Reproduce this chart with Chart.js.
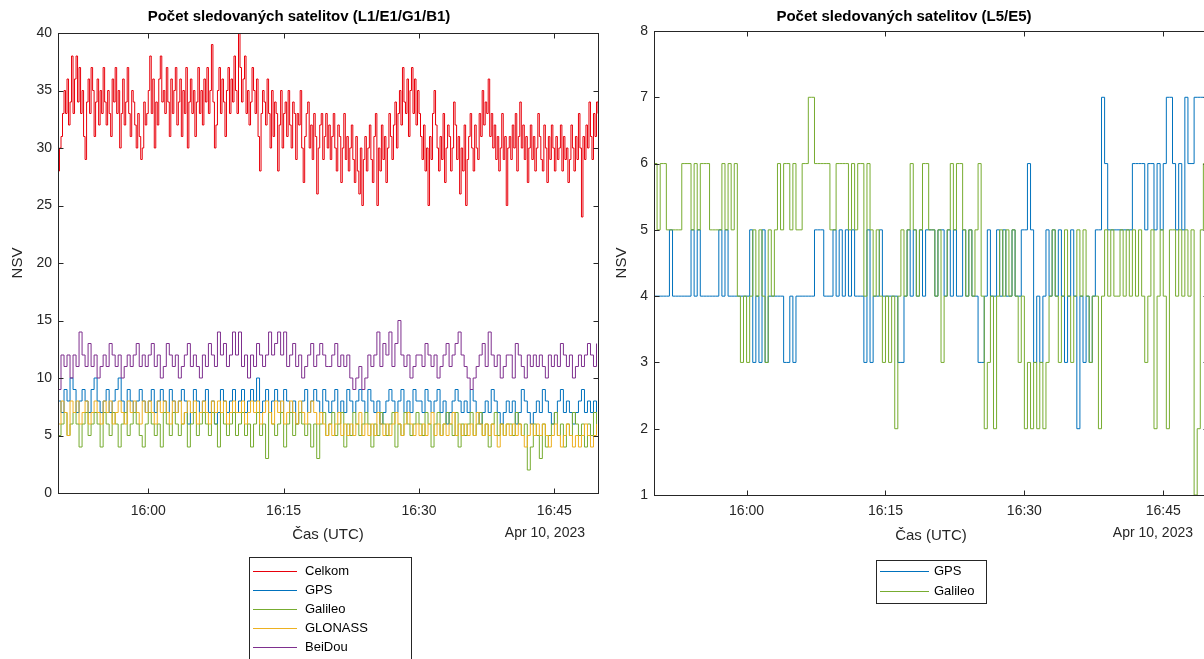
<!DOCTYPE html>
<html>
<head>
<meta charset="utf-8">
<script src="https://cdn.jsdelivr.net/npm/chart.js@4.4.0/dist/chart.umd.min.js"></script>
<style>
  html, body { margin: 0; padding: 0; background: #fff; overflow: hidden; width: 1204px; height: 659px; }
  #left { position: absolute; left: 0; top: 0; }
  #right { position: absolute; left: 600px; top: 0; }
</style>
</head>
<body>
<canvas id="left" width="600" height="659"></canvas>
<canvas id="right" width="620" height="659"></canvas>
<script>
// time axis starts at 15:50 UTC; Celkom read every 10 s, the rest every 20 s
const startMinute = 15 * 60 + 50;
const fineStep = 10 / 60;
const coarseStep = 20 / 60;
const endMinute = 60 - fineStep;
const tickMinutes = [10, 25, 40, 55]; // 16:00, 16:15, 16:30, 16:45
const dateLabel = "Apr 10, 2023";

// L1/E1/G1/B1
const celkom = [
  28,30,31,33,35,33,36,32,34,38, 33,36,38,34,37,33,35,31,29,34, 36,33,37,35,31,34,36,32,35,33,
  37,34,32,35,33,31,36,34,37,33, 35,30,33,36,32,34,37,33,31,35, 34,32,30,33,31,29,30,34,32,33,
  35,38,33,36,30,34,32,36,38,34, 35,33,37,34,31,36,33,35,37,32, 34,36,31,35,33,37,30,34,36,33,
  35,31,34,37,33,35,32,36,34,37, 33,35,39,34,30,32,35,37,33,36, 34,31,35,37,33,36,34,38,35,33,
  40,37,34,36,38,33,35,32,34,37, 35,33,36,31,28,33,35,34,32,36, 33,30,35,31,34,33,28,32,35,30,
  33,34,31,35,32,30,34,33,29,33, 32,35,30,27,31,33,34,30,32,29, 33,31,26,30,32,33,29,31,33,30,
  32,29,31,33,30,28,32,31,27,30, 33,29,31,28,30,32,29,27,31,28, 26,30,25,29,31,28,30,32,29,27,
  31,33,25,30,28,32,29,31,27,30, 33,31,29,32,34,30,33,35,32,37, 34,33,36,31,35,37,33,36,32,35,
  33,31,29,32,28,30,25,31,29,33, 35,32,30,28,31,29,33,27,30,32, 31,28,30,34,32,29,31,26,30,28,
  32,25,29,31,33,30,28,32,30,29, 33,31,35,32,34,33,36,31,33,30, 32,29,31,28,30,33,29,31,25,30,
  31,29,32,30,33,28,31,34,30,32, 29,31,27,30,32,29,31,28,30,33, 31,29,28,32,30,27,31,29,32,30,
  28,31,29,30,32,28,31,29,30,27, 29,32,30,28,31,29,33,30,24,31, 29,32,30,34,31,29,33,31,34,33
];
const gps = [
  8,7,9,8,10,9,7,8,9,8, 7,9,10,8,7,8,9,7,8,9, 10,8,7,9,8,7,8,9,8,7,
  8,9,7,8,9,8,7,9,8,7, 8,9,8,6,7,9,8,7,8,9, 7,8,6,7,9,8,7,8,9,7,
  8,9,7,8,9,8,10,7,8,9, 7,8,9,8,7,9,8,7,8,6, 7,8,9,7,8,9,8,7,9,8,
  7,8,9,7,8,7,9,8,7,8, 9,8,7,9,8,7,8,6,7,8, 9,8,7,8,9,7,8,7,9,8,
  8,7,9,8,7,8,9,7,8,6, 7,8,9,8,7,8,7,9,8,7, 6,7,8,7,9,8,7,6,7,8,
  7,8,6,7,9,8,7,6,7,8, 7,9,8,7,6,7,8,9,7,8, 7,6,7,8,9,7,8,7,8,7
];
const galileo = [
  5,6,7,5,6,7,6,4,6,7, 5,6,7,6,4,7,6,5,7,6, 4,6,7,5,6,7,6,5,4,6,
  7,6,5,6,4,7,6,5,7,6, 5,6,7,4,6,7,5,6,7,6, 5,7,6,4,7,6,5,6,7,5,
  6,7,5,6,4,6,7,5,6,3, 7,6,5,6,7,4,6,7,5,6, 7,6,5,6,4,6,3,6,7,5,
  6,7,5,6,7,4,6,5,7,6, 5,6,7,6,4,6,5,7,6,5, 6,7,4,6,5,7,6,5,6,7,
  6,5,7,6,4,6,7,5,6,7, 6,5,7,4,6,5,6,7,5,6, 7,5,6,4,6,7,5,6,5,6,
  6,5,7,6,5,6,2,4,6,5, 3,6,4,5,6,7,5,6,4,6, 5,7,6,5,6,4,6,5,7,6
];
const glonass = [
  6,8,7,5,8,7,8,6,7,8, 6,7,8,7,6,8,7,8,6,7, 8,7,6,8,7,8,7,6,8,7,
  8,7,6,8,7,8,7,6,8,7, 8,6,7,8,7,8,6,7,8,7, 6,8,7,8,7,8,6,7,8,7,
  7,8,6,7,8,7,8,6,7,8, 7,6,8,7,8,6,7,8,7,6, 8,7,6,7,8,7,6,7,6,5,
  6,5,6,7,5,6,5,6,5,6, 7,5,6,5,6,5,7,6,5,6, 5,6,7,6,5,6,7,6,5,6,
  5,6,5,6,7,5,6,5,6,5, 6,7,5,6,5,6,5,6,5,7, 6,5,6,5,6,5,4,6,5,6,
  5,6,5,6,5,4,5,6,5,6, 5,6,5,4,5,6,5,4,5,6, 5,4,5,4,5,6,5,4,5,6
];
const beidou = [
  9,12,11,12,10,12,11,14,12,11, 13,11,12,10,11,12,11,13,12,11, 12,10,11,12,11,12,13,11,12,11,
  12,13,11,12,10,11,13,12,11,12, 10,11,12,13,11,12,11,10,12,11, 13,12,11,14,12,13,11,12,14,12,
  14,11,12,10,12,11,13,12,11,12, 14,12,13,14,12,14,11,12,13,11, 12,10,11,12,13,11,12,13,12,11,
  11,12,13,11,12,11,12,10,9,10, 11,9,10,12,11,12,14,11,13,12, 14,11,13,15,12,11,12,10,11,12,
  12,11,13,12,11,12,10,11,12,13, 11,12,13,14,12,11,10,9,10,11, 12,13,11,14,12,11,12,10,11,12,
  12,10,13,12,11,10,12,11,12,11, 12,11,10,12,11,12,11,13,12,11, 12,10,11,12,11,12,13,12,11,13
];

// L5/E5
const gpsL5 = [
  4,4,4,4,4,5,4,4,4,4, 4,4,5,4,5,4,4,4,4,4, 4,5,4,5,4,4,4,4,4,4,
  4,5,3,4,3,5,3,4,4,4, 4,4,3,3,4,3,4,4,4,4, 4,4,5,5,5,4,4,4,5,4,
  5,4,5,4,5,4,4,4,3,5, 3,4,4,5,4,4,4,4,4,3, 3,4,5,4,5,4,5,4,5,5,
  5,4,5,5,4,5,4,5,4,4, 5,4,5,4,4,3,3,4,5,4, 4,5,4,5,4,4,5,4,4,5,
  5,6,5,3,4,3,4,5,4,5, 4,5,4,3,4,5,4,2,4,3, 4,3,4,5,5,7,6,5,5,5,
  5,5,5,5,5,6,6,6,6,5, 6,6,5,6,5,6,7,7,6,5, 6,5,7,6,6,7,7,7,7,7
];
const galileoL5 = [
  6,5,6,6,5,5,5,5,5,6, 6,6,5,6,5,6,6,6,5,5, 5,5,6,5,6,5,6,4,3,4,
  3,4,5,4,5,4,3,5,4,5, 6,5,6,6,5,6,5,5,6,6, 7,7,6,6,6,6,6,5,5,6,
  6,6,6,5,6,5,6,6,4,6, 5,4,5,4,3,4,3,4,2,4, 5,4,5,6,5,4,5,6,6,5,
  5,4,5,3,4,5,6,5,6,6, 5,4,5,4,5,6,4,2,3,4, 2,4,5,4,5,4,5,4,3,4,
  2,3,2,3,2,3,2,3,4,5, 4,3,4,5,4,3,4,5,4,5, 4,3,4,4,2,4,5,4,5,4,
  4,5,4,5,4,5,4,5,4,3, 4,5,2,4,5,4,2,5,5,4, 5,4,5,4,5,1,2,5,6,5
];

const FONT = "'Liberation Sans', Arial, Helvetica, sans-serif";
Chart.defaults.font.family = FONT;
Chart.defaults.color = "#262626";

function toPoints(values, step) {
  return values.map((v, i) => ({ x: i * step, y: v }));
}

function clock(m) {
  const t = startMinute + m;
  const h = Math.floor(t / 60);
  const mm = Math.round(t % 60);
  return h + ":" + String(mm).padStart(2, "0");
}

function series(label, values, step, color, order) {
  return {
    label: label,
    data: toPoints(values, step),
    borderColor: color,
    backgroundColor: color,
    borderWidth: 1,
    pointRadius: 0,
    stepped: true,
    fill: false,
    order: order,
  };
}

// axes box, inward ticks, date label and boxed legend in MATLAB style
const matlabFrame = {
  id: "matlabFrame",
  afterDraw(chart, args, opts) {
    const { ctx, chartArea: a, scales } = chart;
    const L = Math.round(a.left) + 0.5, R = Math.round(a.right) + 0.5;
    const T = Math.round(a.top) + 0.5, B = Math.round(a.bottom) + 0.5;
    ctx.save();
    ctx.strokeStyle = "#262626";
    ctx.lineWidth = 1;
    ctx.strokeRect(L, T, R - L, B - T);
    ctx.beginPath();
    for (const t of scales.x.ticks) {
      const px = Math.round(scales.x.getPixelForValue(t.value)) + 0.5;
      ctx.moveTo(px, B); ctx.lineTo(px, B - 5);
      ctx.moveTo(px, T); ctx.lineTo(px, T + 5);
    }
    for (const t of scales.y.ticks) {
      const py = Math.round(scales.y.getPixelForValue(t.value)) + 0.5;
      ctx.moveTo(L, py); ctx.lineTo(L + 5, py);
      ctx.moveTo(R, py); ctx.lineTo(R - 5, py);
    }
    ctx.stroke();

    ctx.fillStyle = "#262626";
    ctx.font = "14px " + FONT;
    ctx.textAlign = "right";
    ctx.textBaseline = "middle";
    ctx.fillText(dateLabel, opts.dateRight, opts.dateY);

    const lg = opts.legend;
    ctx.fillStyle = "#fff";
    ctx.fillRect(lg.x, lg.y, lg.w, lg.h);
    ctx.strokeStyle = "#262626";
    ctx.strokeRect(lg.x + 0.5, lg.y + 0.5, lg.w, lg.h);
    ctx.font = "13px " + FONT;
    ctx.textAlign = "left";
    chart.data.datasets.forEach((ds, i) => {
      const y = lg.firstY + i * lg.step;
      ctx.strokeStyle = ds.borderColor;
      ctx.beginPath();
      ctx.moveTo(lg.lineX0, Math.round(y) + 0.5);
      ctx.lineTo(lg.lineX1, Math.round(y) + 0.5);
      ctx.stroke();
      ctx.fillStyle = "#000";
      ctx.fillText(ds.label, lg.textX, y);
    });
    ctx.restore();
  },
};

function makeOptions(cfg) {
  return {
    responsive: false,
    animation: false,
    events: [],
    layout: { padding: { left: 0, right: cfg.padRight, top: 0, bottom: 0 } },
    plugins: {
      legend: { display: false },
      tooltip: { enabled: false },
      title: {
        display: true,
        text: cfg.title,
        color: "#000",
        font: { size: 15, weight: "bold" },
        padding: { top: 8, bottom: cfg.titleBottom },
      },
      matlabFrame: cfg.frame,
    },
    scales: {
      x: {
        type: "linear",
        min: 0,
        max: endMinute,
        grid: { display: false, drawTicks: false },
        border: { display: false },
        afterBuildTicks: (scale) => {
          scale.ticks = tickMinutes.map((v) => ({ value: v }));
        },
        afterFit: (scale) => {
          scale.height = cfg.xHeight;
        },
        ticks: {
          autoSkip: false,
          maxRotation: 0,
          padding: cfg.xTickPad,
          font: { size: 14 },
          color: "#262626",
          callback: (v) => clock(v),
        },
        title: {
          display: true,
          text: "Čas (UTC)",
          font: { size: 15 },
          color: "#262626",
          padding: { top: 0, bottom: cfg.xTitleBottom },
        },
      },
      y: {
        min: cfg.yMin,
        max: cfg.yMax,
        grid: { display: false, drawTicks: false },
        border: { display: false },
        afterFit: (scale) => {
          scale.width = cfg.yWidth;
        },
        ticks: {
          stepSize: cfg.yStep,
          padding: 6,
          font: { size: 14 },
          color: "#262626",
        },
        title: {
          display: true,
          text: "NSV",
          font: { size: 15 },
          color: "#262626",
          padding: { top: cfg.yTitleTop, bottom: 0 },
        },
      },
    },
  };
}

new Chart(document.getElementById("left"), {
  type: "line",
  data: {
    datasets: [
      series("Celkom", celkom, fineStep, "#E8000B", 5),
      series("GPS", gps, coarseStep, "#0072BD", 4),
      series("Galileo", galileo, coarseStep, "#77AC30", 3),
      series("GLONASS", glonass, coarseStep, "#EDB120", 2),
      series("BeiDou", beidou, coarseStep, "#7E2F8E", 1),
    ],
  },
  options: makeOptions({
    title: "Počet sledovaných satelitov (L1/E1/G1/B1)",
    padRight: 2,
    titleBottom: 7,
    xHeight: 166,
    xTickPad: 9.6,
    xTitleBottom: 115,
    yWidth: 58,
    yTitleTop: 9,
    yMin: 0,
    yMax: 40,
    yStep: 5,
    frame: {
      dateRight: 585,
      dateY: 533,
      legend: { x: 249, y: 557, w: 162, h: 104, lineX0: 253, lineX1: 297, textX: 305, firstY: 571, step: 19 },
    },
  }),
  plugins: [matlabFrame],
});

new Chart(document.getElementById("right"), {
  type: "line",
  data: {
    datasets: [
      series("GPS", gpsL5, coarseStep, "#0072BD", 2),
      series("Galileo", galileoL5, coarseStep, "#77AC30", 1),
    ],
  },
  options: makeOptions({
    title: "Počet sledovaných satelitov (L5/E5)",
    padRight: 12,
    titleBottom: 5,
    xHeight: 164,
    xTickPad: 7.6,
    xTitleBottom: 114,
    yWidth: 54,
    yTitleTop: 13,
    yMin: 1,
    yMax: 8,
    yStep: 1,
    frame: {
      dateRight: 593,
      dateY: 533,
      legend: { x: 276, y: 560, w: 110, h: 43, lineX0: 280, lineX1: 329, textX: 334, firstY: 571, step: 20 },
    },
  }),
  plugins: [matlabFrame],
});
</script>
</body>
</html>
